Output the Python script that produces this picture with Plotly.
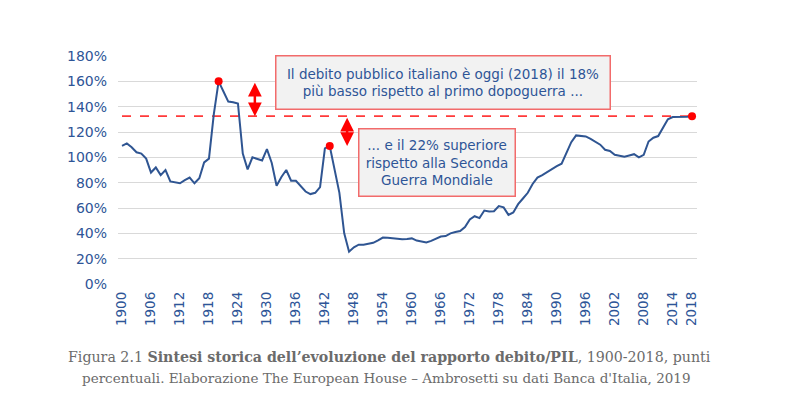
import plotly.graph_objects as go

years = list(range(1900, 2019))
debt_gdp = [
    109, 111, 108, 104, 103, 99, 88, 92, 86, 90,          # 1900-1909
    81, 80.5, 79.5, 82, 84, 79.5, 83.5, 96, 99, 134,      # 1910-1919
    160, 152, 144, 143.5, 142.5, 103, 90.5, 100, 98.5, 97.5,  # 1920-1929
    106.5, 95.5, 77.5, 84.5, 90, 81.5, 81.5, 77, 73, 71,  # 1930-1939
    72, 76.5, 107, 109, 90, 72, 40, 25.5, 29, 31,         # 1940-1949
    31, 31.5, 32.5, 34.5, 36.7, 36.5, 36, 35.5, 35.4, 35.5,  # 1950-1959
    36, 34.3, 33.3, 32.8, 34, 35.5, 37.5, 37.8, 40, 41,   # 1960-1969
    41.8, 45, 51, 53.5, 52, 58, 57.2, 57.5, 61.5, 60.5,   # 1970-1979
    54.6, 56.5, 63, 67.5, 72, 79, 84, 86, 88.5, 90.5,     # 1980-1989
    93, 95, 103, 112, 117.3, 117.2, 116.5, 114.5, 112, 110,  # 1990-1999
    106, 105, 102, 101, 100.5, 101.5, 102.5, 100, 102, 112.5,  # 2000-2009
    115.5, 116.8, 124, 130, 131.8, 131.8, 132, 132, 132.5,  # 2010-2018
]

highlight_years = [1920, 1943, 2018]
highlight_vals = [debt_gdp[years.index(y)] for y in highlight_years]
ref_level = debt_gdp[-1]

tick_years = list(range(1900, 2015, 6)) + [2018]
y_ticks = list(range(0, 181, 20))

caption_line1 = ("Figura 2.1 <b>Sintesi storica dell’evoluzione del rapporto debito/PIL</b>, "
                 "1900-2018, punti")
caption_line2 = ("percentuali. Elaborazione The European House – Ambrosetti su dati "
                 "Banca d'Italia, 2019")
box1_text = ("Il debito pubblico italiano è oggi (2018) il 18%<br>"
             "più basso rispetto al primo dopoguerra ...")
box2_text = "... e il 22% superiore<br>rispetto alla Seconda<br>Guerra Mondiale"

BLUE = "#2E5597"
LINE = "#2F5592"
RED = "#FF0000"

fig = go.Figure()

# dashed reference line at the 2018 level
fig.add_trace(go.Scatter(
    x=[1900, 2018], y=[ref_level, ref_level], mode="lines",
    line=dict(color="#FF3A3A", width=1.6, dash="dash"),
    hoverinfo="skip", showlegend=False,
))

fig.add_trace(go.Scatter(
    x=years, y=debt_gdp, mode="lines",
    line=dict(color=LINE, width=2),
    showlegend=False,
))

fig.add_trace(go.Scatter(
    x=highlight_years, y=highlight_vals, mode="markers",
    marker=dict(color=RED, size=8),
    showlegend=False,
))

# double-headed arrows
arrow_specs = [
    (1927.5, highlight_vals[0], ref_level),
    (1946.6, ref_level, highlight_vals[1]),
]
for ax_year, y_top, y_bot in arrow_specs:
    fig.add_annotation(
        x=ax_year, y=y_bot, ax=ax_year, ay=y_top,
        xref="x", yref="y", axref="x", ayref="y",
        showarrow=True, arrowhead=2, arrowside="end+start",
        arrowsize=1.1, arrowwidth=2.5, arrowcolor=RED, text="",
        standoff=0, startstandoff=0,
    )

# text boxes
fig.add_annotation(
    x=1966.5, y=158.9, xref="x", yref="y",
    text=box1_text,
    showarrow=False, align="center",
    font=dict(family="DejaVu Sans", size=13.5, color=BLUE),
    bgcolor="#F2F2F2", bordercolor="#F26B6B", borderwidth=1.5, borderpad=0,
    width=333, height=52,
)
fig.add_annotation(
    x=1965.2, y=96.3, xref="x", yref="y",
    text=box2_text,
    showarrow=False, align="center",
    font=dict(family="DejaVu Sans", size=13.5, color=BLUE),
    bgcolor="#F2F2F2", bordercolor="#F26B6B", borderwidth=1.5, borderpad=0,
    width=155, height=66,
)

# caption (two lines)
for txt, xs, ys, fs in [(caption_line1, -18, -72.7, 14.2), (caption_line2, -21.5, -93.7, 13.5)]:
    fig.add_annotation(
        x=0.5, y=0.0, xref="paper", yref="paper", yanchor="middle", xanchor="center",
        xshift=xs, yshift=ys, text=txt, showarrow=False, align="center",
        font=dict(family="DejaVu Serif", size=fs, color="#6B6B6B"),
    )

fig.update_layout(
    width=792, height=386,
    margin=dict(l=110, r=103, t=48, b=110),
    paper_bgcolor="white", plot_bgcolor="white",
    font=dict(family="DejaVu Sans", color=BLUE),
)
fig.update_xaxes(
    range=[1899.17, 2019.03], tickvals=tick_years, ticktext=[str(t) for t in tick_years],
    tickangle=-90, tickfont=dict(size=13.5, color=BLUE),
    showgrid=False, zeroline=False, showline=False, ticks="",
    ticklabelstandoff=4,
)
fig.update_yaxes(
    range=[0, 180], tickvals=y_ticks, ticktext=[f"{v}%" for v in y_ticks],
    tickfont=dict(size=14, color=BLUE),
    showgrid=True, gridcolor="#D9D9D9", gridwidth=1,
    zeroline=False, showline=False, ticks="",
    ticklabelstandoff=10,
)

fig.write_html("out.html")
